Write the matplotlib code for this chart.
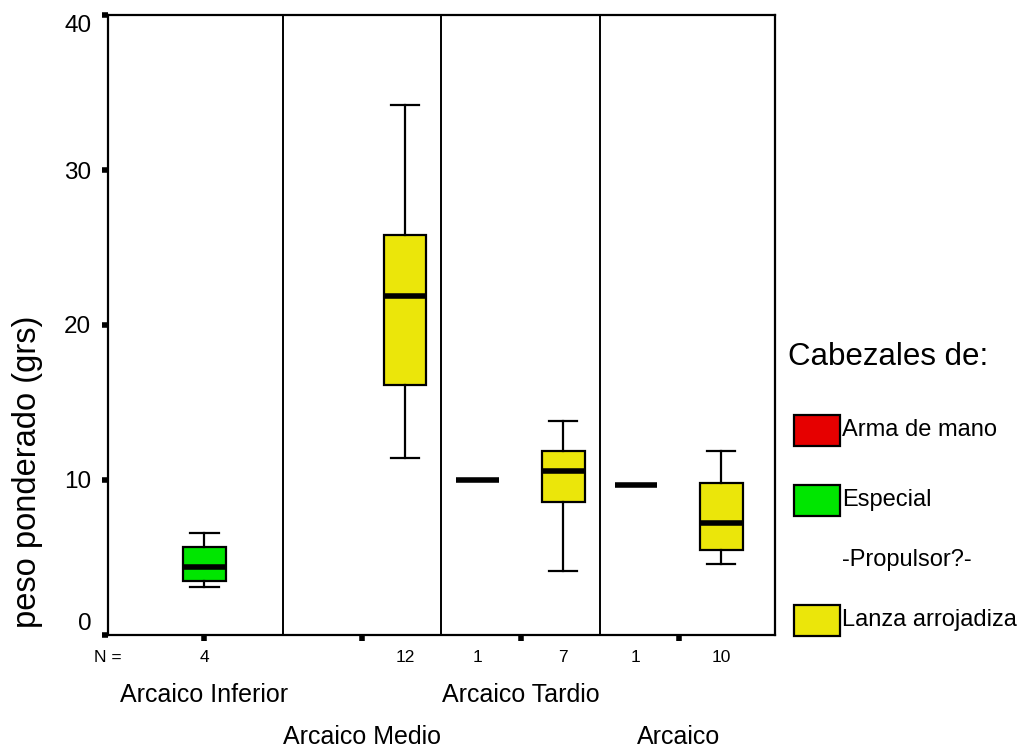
import numpy as np
import matplotlib
matplotlib.use('Agg')
import matplotlib.pyplot as plt
from matplotlib.patches import Rectangle
from matplotlib.transforms import blended_transform_factory

plt.rcParams['font.family'] = ['Liberation Sans', 'DejaVu Sans']

periods = ['Arcaico Inferior', 'Arcaico Medio', 'Arcaico Tardio', 'Arcaico']
cabezales = ['Arma de mano', 'Especial', 'Lanza arrojadiza']
cab_colors = ['#E60000', '#00E600', '#EBE60A']

# one entry per box drawn
box_period = [1, 2, 3, 3, 4, 4]
box_cab = [1, 2, 0, 2, 0, 2]
whislo = [3.1, 11.4, 10.0, 4.1, 9.65, 4.6]
q1 = [3.5, 16.1, 10.0, 8.6, 9.65, 5.5]
med = [4.4, 21.9, 10.0, 10.6, 9.65, 7.2]
q3 = [5.7, 25.8, 10.0, 11.9, 9.65, 9.8]
whishi = [6.6, 34.2, 10.0, 13.8, 9.65, 11.9]
n_obs = [4, 12, 1, 7, 1, 10]

offset = {0: -0.27, 1: 0.0, 2: 0.27}

fig = plt.figure(figsize=(10.35, 7.51), dpi=100)
ax = fig.add_axes([0.1043, 0.1545, 0.6445, 0.8255])

stats = []
pos = []
for i in range(len(box_period)):
    stats.append({'whislo': whislo[i], 'q1': q1[i], 'med': med[i], 'q3': q3[i],
                  'whishi': whishi[i], 'fliers': []})
    pos.append(box_period[i] + offset[box_cab[i]])

bp = ax.bxp(stats, positions=pos, widths=0.27, capwidths=0.18, patch_artist=True,
            showfliers=False,
            boxprops=dict(edgecolor='black', linewidth=1.6),
            medianprops=dict(color='black', linewidth=4, solid_capstyle='butt'),
            whiskerprops=dict(color='black', linewidth=1.6),
            capprops=dict(color='black', linewidth=1.6))
for patch, c in zip(bp['boxes'], box_cab):
    patch.set_facecolor(cab_colors[c])

for xd in [1.5, 2.5, 3.5]:
    ax.axvline(xd, color='black', linewidth=1.4)

ax.set_xlim(0.39, 4.61)
ax.set_ylim(0, 40)
ax.set_yticks([0, 10, 20, 30, 40])
ax.set_xticks([1, 2, 3, 4])
ax.set_xticklabels([])
for s in ax.spines.values():
    s.set_linewidth(1.6)
ax.tick_params(axis='both', length=4, width=4, labelsize=17.5, pad=8)
ax.yaxis.get_major_ticks()[0].label1.set_verticalalignment('bottom')
ax.yaxis.get_major_ticks()[-1].label1.set_verticalalignment('top')
ax.set_ylabel('peso ponderado (grs)', fontsize=23.5)
ax.yaxis.set_label_coords(-0.097, 0.263)

tr = blended_transform_factory(ax.transData, ax.transAxes)
ax.text(0.39, -0.037, 'N =', transform=tr, ha='center', va='center', fontsize=12.5)
for p, n in zip(pos, n_obs):
    ax.text(p, -0.037, str(n), transform=tr, ha='center', va='center', fontsize=12.5)
for k, name in enumerate(periods):
    yy = -0.097 if k % 2 == 0 else -0.165
    ax.text(k + 1, yy, name, transform=tr, ha='center', va='center', fontsize=18)

# legend
fig.text(788 / 1035, 1 - 357 / 751, 'Cabezales de:', fontsize=22.5, ha='left', va='center')
leg_y = [430, 500, 620]
for c, yc in enumerate(leg_y):
    x0, y0 = 794 / 1035, 1 - (yc + 15.5) / 751
    fig.patches.append(Rectangle((x0, y0), 46 / 1035, 31 / 751, transform=fig.transFigure,
                                 facecolor=cab_colors[c], edgecolor='black', linewidth=1.6))
for lab, yc in zip(cabezales, leg_y):
    fig.text(842 / 1035, 1 - yc / 751, lab, fontsize=17, ha='left', va='center')
fig.text(842 / 1035, 1 - 560 / 751, '-Propulsor?-', fontsize=17, ha='left', va='center')

fig.savefig('out.png', dpi=100)
